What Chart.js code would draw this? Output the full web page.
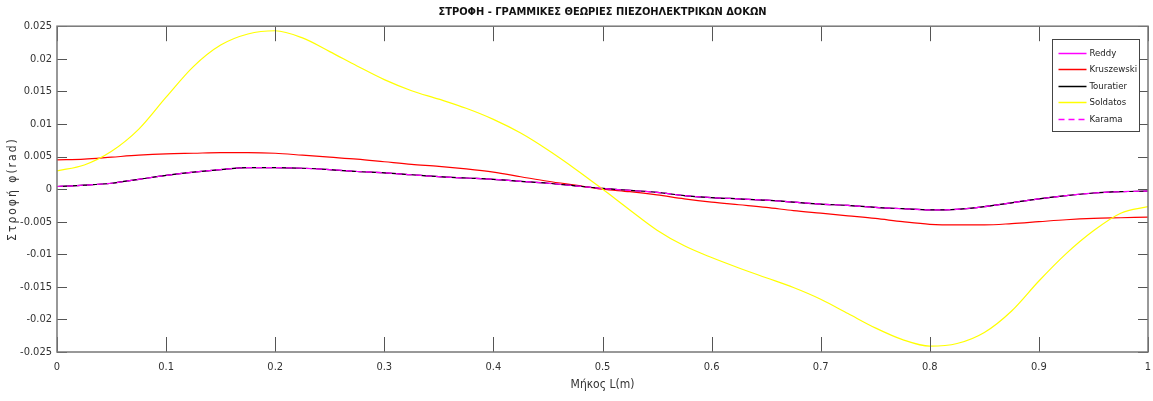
<!DOCTYPE html>
<html>
<head>
<meta charset="utf-8">
<title>Στροφή</title>
<script src="https://cdn.jsdelivr.net/npm/chart.js@4"></script>
<style>
  body { margin: 0; background: #fff; }
  #wrap { width: 1153px; height: 401px; position: relative; }
</style>
</head>
<body>
<div id="wrap"><canvas id="strofiChart"></canvas></div>
<script>
'use strict';

// ---- data ----
const xs = [0, 0.025, 0.05, 0.075, 0.1, 0.125, 0.15, 0.175, 0.2, 0.225, 0.25, 0.275, 0.3, 0.325, 0.35, 0.375, 0.4, 0.425, 0.45, 0.475,
  0.5, 0.525, 0.55, 0.575, 0.6, 0.625, 0.65, 0.675, 0.7, 0.725, 0.75, 0.775, 0.8, 0.825, 0.85, 0.875, 0.9, 0.925, 0.95, 0.975, 1];

const reddy = [0.0004, 0.0006, 0.0009, 0.0015, 0.0021, 0.0026, 0.0030, 0.0033, 0.0033, 0.0032, 0.0030, 0.0027, 0.0025, 0.0022, 0.0019, 0.0017, 0.0015, 0.0012, 0.0009, 0.0005,
  0.0001, -0.0002, -0.0005, -0.0010, -0.0013, -0.0015, -0.0017, -0.0020, -0.0023, -0.0025, -0.0028, -0.0030, -0.0032, -0.0031, -0.0027, -0.0021, -0.0015, -0.0010, -0.0006, -0.0004, -0.0003];

const kruszewski = [0.0045, 0.0046, 0.0049, 0.0052, 0.0054, 0.0055, 0.0056, 0.0056, 0.0055, 0.0052, 0.0049, 0.0046, 0.0042, 0.0038, 0.0035, 0.0031, 0.0026, 0.0019, 0.0012, 0.0006,
  0, -0.0004, -0.0009, -0.0015, -0.0020, -0.0024, -0.0028, -0.0033, -0.0037, -0.0041, -0.0045, -0.0050, -0.0054, -0.0055, -0.0055, -0.0053, -0.0050, -0.0047, -0.0045, -0.0044, -0.0043];

const touratier = [0.0004, 0.0006, 0.0009, 0.0015, 0.0021, 0.0026, 0.0030, 0.0033, 0.0033, 0.0032, 0.0030, 0.0027, 0.0025, 0.0022, 0.0019, 0.0017, 0.0015, 0.0012, 0.0009, 0.0005,
  0.0001, -0.0002, -0.0005, -0.0010, -0.0013, -0.0015, -0.0017, -0.0020, -0.0023, -0.0025, -0.0028, -0.0030, -0.0032, -0.0031, -0.0027, -0.0021, -0.0015, -0.0010, -0.0006, -0.0004, -0.0003];

const soldatos = [0.0028, 0.0037, 0.0058, 0.0092, 0.0141, 0.0188, 0.0221, 0.0238, 0.0243, 0.0232, 0.0211, 0.0189, 0.0168, 0.0151, 0.0138, 0.0124, 0.0107, 0.0086, 0.0060, 0.0031,
  0, -0.0032, -0.0063, -0.0087, -0.0105, -0.0121, -0.0136, -0.0151, -0.0169, -0.0191, -0.0213, -0.0231, -0.0241, -0.0237, -0.0220, -0.0187, -0.0141, -0.0099, -0.0064, -0.0037, -0.0027];

const karama = [0.0004, 0.0006, 0.0009, 0.0015, 0.0021, 0.0026, 0.0030, 0.0033, 0.0033, 0.0032, 0.0030, 0.0027, 0.0025, 0.0022, 0.0019, 0.0017, 0.0015, 0.0012, 0.0009, 0.0005,
  0.0001, -0.0002, -0.0005, -0.0010, -0.0013, -0.0015, -0.0017, -0.0020, -0.0023, -0.0025, -0.0028, -0.0030, -0.0032, -0.0031, -0.0027, -0.0021, -0.0015, -0.0010, -0.0006, -0.0004, -0.0003];

const seriesNames = ['Reddy', 'Kruszewski', 'Touratier', 'Soldatos', 'Karama'];
const titleText = 'ΣΤΡΟΦΗ - ΓΡΑΜΜΙΚΕΣ ΘΕΩΡΙΕΣ ΠΙΕΖΟΗΛΕΚΤΡΙΚΩΝ ΔΟΚΩΝ';
const xTitle = 'Μήκος L(m)';
const yTitle = 'Στροφή φ(rad)';

const FONT = "'Liberation Sans Narrow', 'Arial Narrow', 'DejaVu Sans Condensed', Arial, sans-serif";

function pts(ys) {
  return xs.map((x, i) => ({ x: x, y: ys[i] }));
}

// ---- MATLAB-like box, inward ticks, y label and legend inside the axes ----
const matlabAxes = {
  id: 'matlabAxes',
  afterDatasetsDraw(chart) {
    const { ctx, chartArea: a, scales } = chart;
    ctx.save();

    // inward ticks
    ctx.strokeStyle = '#555';
    ctx.lineWidth = 1;
    ctx.beginPath();
    scales.x.ticks.forEach(t => {
      const px = Math.round(scales.x.getPixelForValue(t.value)) + 0.5;
      ctx.moveTo(px, a.bottom); ctx.lineTo(px, a.bottom - 15);
      ctx.moveTo(px, a.top); ctx.lineTo(px, a.top + 15);
    });
    scales.y.ticks.forEach(t => {
      const py = Math.round(scales.y.getPixelForValue(t.value)) + 0.5;
      ctx.moveTo(a.left, py); ctx.lineTo(a.left + 10, py);
      ctx.moveTo(a.right, py); ctx.lineTo(a.right - 10, py);
    });
    ctx.stroke();

    // box
    ctx.strokeStyle = '#777';
    ctx.lineWidth = 1.5;
    ctx.strokeRect(a.left, a.top, a.right - a.left, a.bottom - a.top);

    // y axis title, spaced out like the original
    ctx.save();
    ctx.translate(13, (a.top + a.bottom) / 2);
    ctx.rotate(-Math.PI / 2);
    ctx.font = '12px ' + FONT;
    ctx.letterSpacing = '2px';
    ctx.fillStyle = '#333';
    ctx.textAlign = 'center';
    ctx.textBaseline = 'middle';
    ctx.fillText(yTitle, 0, 0);
    ctx.restore();

    // legend
    const bx = 1052.5, by = 39.5, bw = 87, bh = 92, rowH = 16.6;
    ctx.fillStyle = '#fff';
    ctx.fillRect(bx, by, bw, bh);
    ctx.strokeStyle = '#444';
    ctx.lineWidth = 1;
    ctx.strokeRect(bx, by, bw, bh);
    ctx.font = '9.5px ' + FONT;
    ctx.textBaseline = 'middle';
    ctx.textAlign = 'left';
    chart.data.datasets.forEach((ds, i) => {
      const ry = Math.round(by + 13 + i * rowH) + 0.5;
      ctx.strokeStyle = ds.borderColor;
      ctx.lineWidth = 1.5;
      ctx.setLineDash(ds.borderDash || []);
      ctx.beginPath();
      ctx.moveTo(bx + 6, ry); ctx.lineTo(bx + 34, ry);
      ctx.stroke();
      ctx.setLineDash([]);
      ctx.fillStyle = '#222';
      ctx.fillText(ds.label, bx + 37, ry);
    });
    ctx.restore();
  },
};

const colors = ['#ff00ff', '#ff0000', '#000000', '#ffff00', '#ff00ff'];
const seriesData = [reddy, kruszewski, touratier, soldatos, karama];

new Chart(document.getElementById('strofiChart'), {
  type: 'line',
  data: {
    datasets: seriesNames.map((name, i) => ({
      label: name,
      data: pts(seriesData[i]),
      borderColor: colors[i],
      borderWidth: 1.2,
      borderDash: name === 'Karama' ? [6, 4] : [],
      pointRadius: 0,
      cubicInterpolationMode: 'monotone',
      fill: false,
      order: seriesNames.length - i,
    })),
  },
  options: {
    responsive: true,
    maintainAspectRatio: false,
    animation: false,
    devicePixelRatio: 1,
    layout: { padding: { top: 0, right: 5, bottom: 0, left: 0 } },
    plugins: {
      legend: { display: false },
      tooltip: { enabled: false },
      title: {
        display: true,
        text: titleText,
        fullSize: false,
        color: '#111',
        font: { size: 11, weight: 'bold', family: FONT },
        padding: { top: 6, bottom: 7 },
      },
    },
    scales: {
      x: {
        type: 'linear',
        min: 0,
        max: 1,
        grid: { display: false, drawTicks: false },
        border: { display: false },
        afterFit: s => { s.height = 49; s.paddingLeft = 0; s.paddingRight = 0; },
        ticks: {
          stepSize: 0.1,
          padding: 9,
          color: '#333',
          maxRotation: 0,
          font: { size: 11, family: FONT },
          callback: v => String(+v.toFixed(1)),
        },
        title: {
          display: true,
          text: xTitle,
          color: '#333',
          font: { size: 12, family: FONT },
          padding: { top: 0, bottom: 9 },
        },
      },
      y: {
        min: -0.025,
        max: 0.025,
        grid: { display: false, drawTicks: false },
        border: { display: false },
        afterFit: s => { s.width = 57; },
        ticks: {
          stepSize: 0.005,
          padding: 5,
          color: '#333',
          font: { size: 11, family: FONT },
          callback: v => String(+v.toFixed(3)),
        },
        title: { display: false },
      },
    },
  },
  plugins: [matlabAxes],
});
</script>
</body>
</html>
